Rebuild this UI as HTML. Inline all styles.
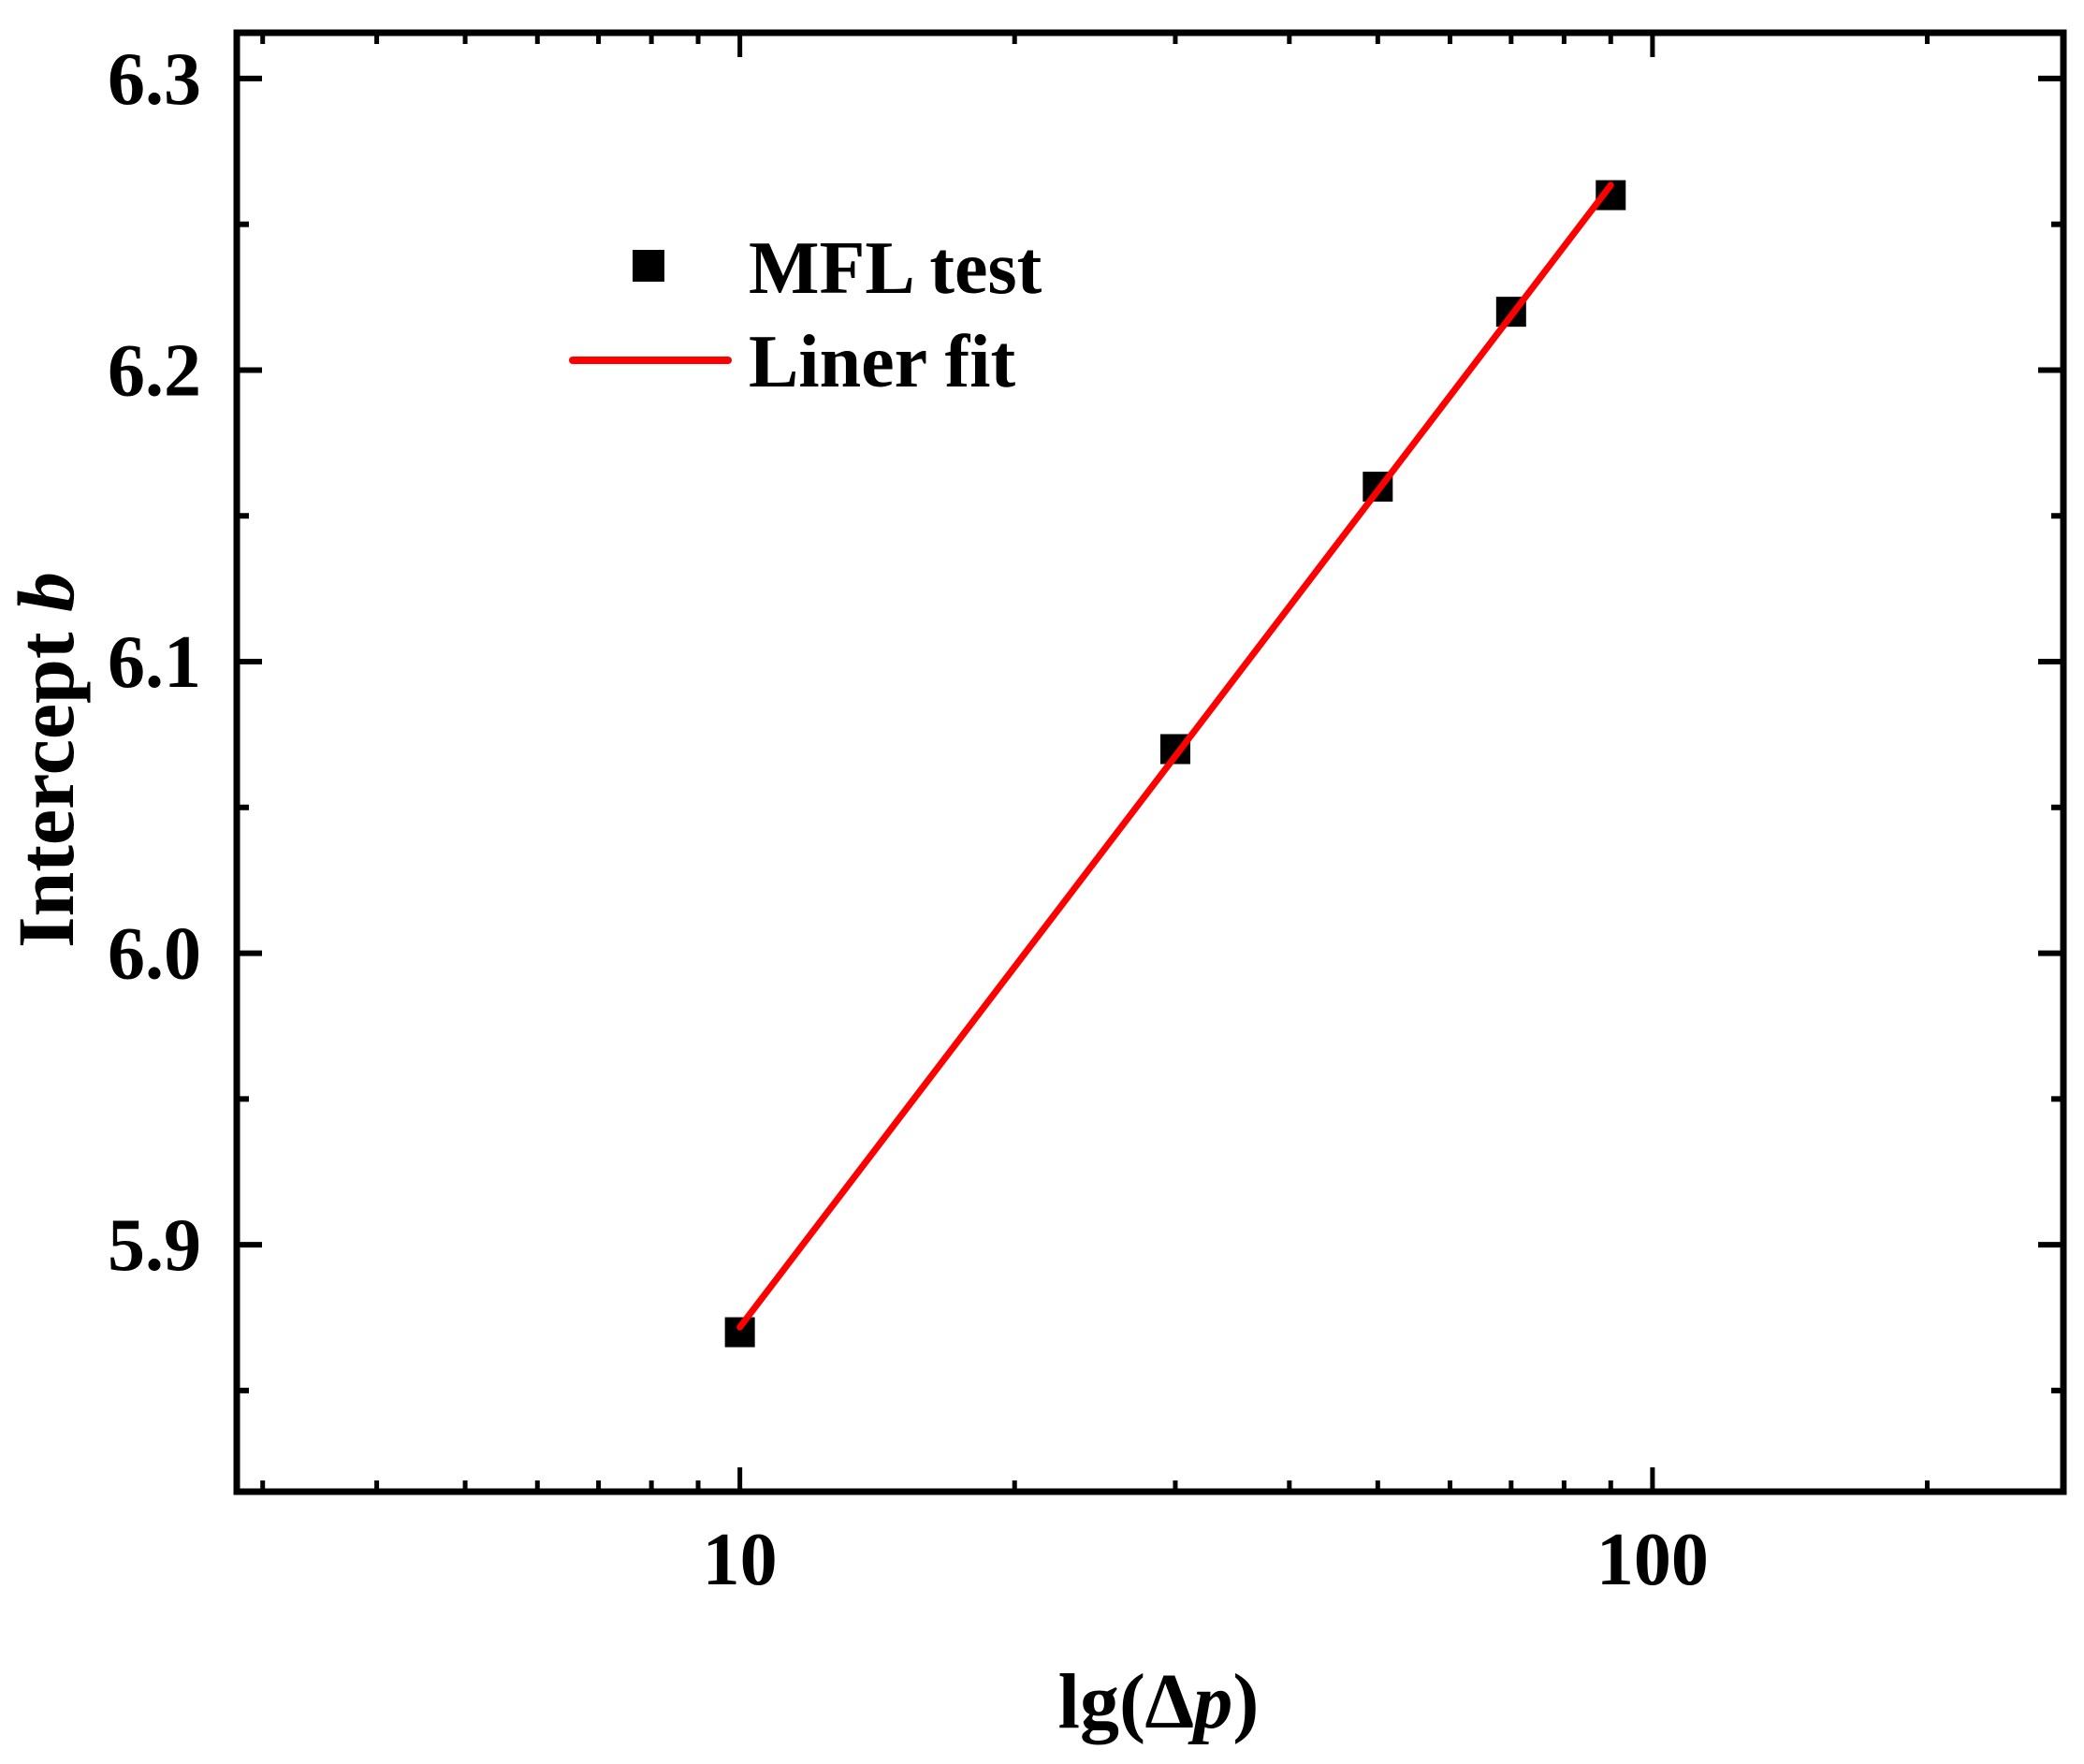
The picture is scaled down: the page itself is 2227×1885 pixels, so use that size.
<!DOCTYPE html>
<html><head><meta charset="utf-8"><style>
html,body{margin:0;padding:0;background:#fff;}
svg{display:block;font-family:"Liberation Serif",serif;font-weight:bold;}
</style></head><body>
<svg id="chart" width="2227" height="1885" viewBox="0 0 2227 1885" xmlns="http://www.w3.org/2000/svg">
<g id="axes"></g>
<g id="series"></g>
<text x="1238" y="1846" font-size="84" text-anchor="middle">lg(<tspan font-style="italic">∆p</tspan>)</text>
<text transform="translate(78,812) rotate(-90)" font-size="86" text-anchor="middle">Intercept <tspan font-style="italic">b</tspan></text>
<g>
<rect x="676" y="267" width="34" height="34" fill="#000"/>
<text x="800" y="313" font-size="80">MFL test</text>
<line x1="612" y1="385" x2="778" y2="385" stroke="#ff0000" stroke-width="8" stroke-linecap="round"/>
<text x="800" y="413" font-size="80">Liner fit</text>
</g>
</svg>
<script>
const xValues = [10, 30, 50, 70, 90];
const yValues = [5.87, 6.07, 6.16, 6.22, 6.26];
const xTickLabels = ["10", "100"];
const yTickLabels = ["5.9", "6.0", "6.1", "6.2", "6.3"];

const L = 253, R = 2205, T = 35, B = 1594;
const xMin = Math.log10(2.81), xMax = Math.log10(282);
const yMin = 5.8153, yMax = 6.3157;
function sx(v){ return L + (Math.log10(v) - xMin) / (xMax - xMin) * (R - L); }
function sy(v){ return B - (v - yMin) / (yMax - yMin) * (B - T); }
const NS = "http://www.w3.org/2000/svg";
function mk(tag, attrs, parent){
  const e = document.createElementNS(NS, tag);
  for (const k in attrs) e.setAttribute(k, attrs[k]);
  parent.appendChild(e); return e;
}
const axes = document.getElementById('axes');
const series = document.getElementById('series');

const frame = mk('rect', {x:L, y:T, width:R-L, height:B-T, fill:'none', stroke:'#000', 'stroke-width':7}, axes);



const xMinor = [3,4,5,6,7,8,9,20,30,40,50,60,70,80,90,200];
xMinor.forEach(v => {
  const x = sx(v);
  const t1 = mk('line', {x1:x, y1:B, x2:x, y2:B-12, stroke:'#000', 'stroke-width':5}, axes);
  
  
  const t2 = mk('line', {x1:x, y1:T, x2:x, y2:T+12, stroke:'#000', 'stroke-width':5}, axes);
  
  
});
xTickLabels.forEach(lab => {
  const x = sx(parseFloat(lab));
  const t1 = mk('line', {x1:x, y1:B, x2:x, y2:B-26, stroke:'#000', 'stroke-width':5}, axes);
  
  
  const t2 = mk('line', {x1:x, y1:T, x2:x, y2:T+26, stroke:'#000', 'stroke-width':5}, axes);
  
  
  const tx = mk('text', {x:x, y:1693, 'font-size':80, 'text-anchor':'middle'}, axes);
  tx.textContent = lab;
  
  
});
yTickLabels.forEach(lab => {
  const v = parseFloat(lab);
  const y = sy(v);
  const t1 = mk('line', {x1:L, y1:y, x2:L+27, y2:y, stroke:'#000', 'stroke-width':6}, axes);
  
  
  const t2 = mk('line', {x1:R, y1:y, x2:R-27, y2:y, stroke:'#000', 'stroke-width':6}, axes);
  
  
  const tx = mk('text', {x:215, y:y+27, 'font-size':80, 'text-anchor':'end'}, axes);
  tx.textContent = lab;
  
  
  const m = v - 0.05;
  if (m > yMin) {
    const ym = sy(m);
    const t3 = mk('line', {x1:L, y1:ym, x2:L+13, y2:ym, stroke:'#000', 'stroke-width':6}, axes);
    
    
    const t4 = mk('line', {x1:R, y1:ym, x2:R-13, y2:ym, stroke:'#000', 'stroke-width':6}, axes);
    
    
  }
});

const lx = xValues.map(v => Math.log10(v));
const mx = lx.reduce((a,b)=>a+b,0)/lx.length;
const my = yValues.reduce((a,b)=>a+b,0)/yValues.length;
let sxy = 0, sxx = 0;
lx.forEach((v,i) => { sxy += (v-mx)*(yValues[i]-my); sxx += (v-mx)*(v-mx); });
const slope = sxy/sxx, icpt = my - slope*mx;
const x0 = xValues[0], x1 = xValues[xValues.length-1];

xValues.forEach((v,i) => {
  const r = mk('rect', {x:sx(v)-16, y:sy(yValues[i])-16, width:32, height:32, fill:'#000'}, series);
  
  
});
const fl = mk('line', {x1:sx(x0), y1:sy(icpt+slope*Math.log10(x0)), x2:sx(x1), y2:sy(icpt+slope*Math.log10(x1)), stroke:'#ff0000', 'stroke-width':7, 'stroke-linecap':'round'}, series);


</script>
</body></html>
